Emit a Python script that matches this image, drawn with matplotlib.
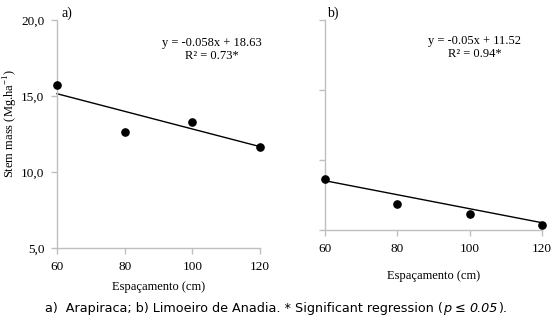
import matplotlib
matplotlib.use("Agg")
import matplotlib.pyplot as plt
from matplotlib.text import Annotation
from matplotlib.ticker import FuncFormatter
import numpy as np

spacing = [60, 80, 100, 120]
stem_a = [15.7, 12.6, 13.27, 11.64]
stem_b = [8.62, 6.83, 6.12, 5.34]
coef_a = (-0.058, 18.63)
coef_b = (-0.05, 11.52)
eq_a = ["y = -0.058x + 18.63", "R² = 0.73*"]
eq_b = ["y = -0.05x + 11.52", "R² = 0.94*"]
y_ticks = [5, 10, 15, 20]
x_ticks = [60, 80, 100, 120]
caption_parts = [("a)  Arapiraca; b) Limoeiro de Anadia. * Significant regression (", "normal"),
                 ("p", "italic"), (" ≤ ", "normal"), ("0.05", "italic"), (").", "normal")]

plt.rcParams["mathtext.fontset"] = "custom"
plt.rcParams["mathtext.rm"] = "Liberation Serif"

W, H = 558, 326
fig = plt.figure(figsize=(W / 100, H / 100), dpi=100)
serif = "Liberation Serif"
grey = "#bfbfbf"

def px_axes(x0, y0, x1, y1):
    return fig.add_axes([x0 / W, 1 - y1 / H, (x1 - x0) / W, (y1 - y0) / H])

def style(ax, labels=True):
    for s in ["top", "right"]:
        ax.spines[s].set_visible(False)
    for s in ["left", "bottom"]:
        ax.spines[s].set_color(grey)
        ax.spines[s].set_linewidth(1)
    ax.set_xlim(60, 120)
    ax.set_ylim(5, 20)
    ax.set_xticks(x_ticks)
    ax.set_yticks(y_ticks)
    ax.tick_params(axis="both", colors=grey, length=4, width=1, labelcolor="black",
                   labelsize=9.5, pad=5)
    if labels:
        ax.yaxis.set_major_formatter(FuncFormatter(lambda v, p: f"{v:.1f}".replace(".", ",")))
    else:
        ax.set_yticklabels([])
    for lab in ax.get_xticklabels() + ax.get_yticklabels():
        lab.set_fontfamily(serif)

def draw(ax, ys, coef, eq, eqx, eqy):
    ax.plot(spacing, ys, "o", color="black", markersize=5.2, zorder=3, clip_on=False)
    xs = np.array([spacing[0], spacing[-1]])
    ax.plot(xs, coef[0] * xs + coef[1], color="black", lw=1, clip_on=False)
    ax.text(eqx, eqy, eq[0] + "\n" + eq[1], transform=fig.transFigure, ha="center",
            va="top", fontsize=9, family=serif, linespacing=1.1)

axa = px_axes(57, 20, 260, 248)
style(axa, True)
draw(axa, stem_a, coef_a, eq_a, 212 / W, 1 - 37 / H)
axa.set_xlabel("Espaçamento (cm)", family=serif, fontsize=9, labelpad=6)
fig.text(11 / W, 1 - 124 / H, "Stem mass (Mg.ha$^{-1}$)", family=serif, fontsize=9,
         rotation=90, ha="center", va="center")
fig.text(62 / W, 1 - 13 / H, "a)", family=serif, fontsize=10, va="center")

axb = px_axes(325, 20, 542, 230)
style(axb, False)
draw(axb, stem_b, coef_b, eq_b, 475 / W, 1 - 35 / H)
axb.set_xlabel("Espaçamento (cm)", family=serif, fontsize=9, labelpad=11)
fig.text(327 / W, 1 - 13 / H, "b)", family=serif, fontsize=10, va="center")

prev = None
for txt, st in caption_parts:
    if prev is None:
        prev = fig.text(45 / W, 1 - 312 / H, txt, fontsize=9.2, family="DejaVu Sans",
                        style=st, va="baseline")
    else:
        prev = fig.add_artist(Annotation(
            txt, xy=(1, 0), xycoords=prev, xytext=(0, 0), textcoords="offset points",
            fontsize=9.2, family="DejaVu Sans", style=st, va="bottom", ha="left"))

fig.savefig("out.png", dpi=100)
